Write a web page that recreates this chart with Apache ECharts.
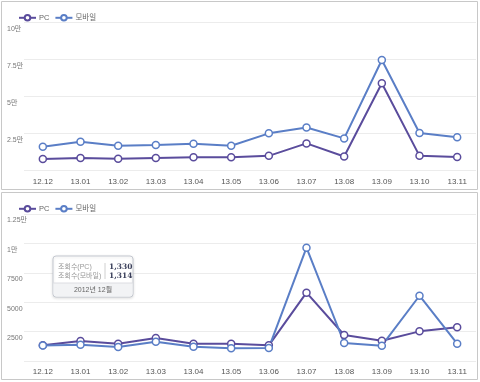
<!DOCTYPE html>
<html><head><meta charset="utf-8">
<script src="https://cdn.jsdelivr.net/npm/echarts@6/dist/echarts.min.js"></script>
<style>html,body{margin:0;padding:0;background:#fff;}#c{width:480px;height:382px;}</style>
</head><body><div id="c"></div>
<script>
const categories = ['12.12','13.01','13.02','13.03','13.04','13.05','13.06','13.07','13.08','13.09','13.10','13.11'];
const seriesNames = ['PC','모바일'];
// top chart (views)
const topPC =     [7700, 8500, 7900, 8500, 9000, 9000, 9900, 18300, 9500, 58900, 9900, 9200];
const topMobile = [16000,19400,16700,17300,18000,16700,25100,29100,21700,74700,25300,22400];
// bottom chart
const botPC =     [1330, 1700, 1470, 1960, 1470, 1470, 1330, 5810, 2210, 1730, 2520, 2860];
const botMobile = [1314, 1390, 1190, 1640, 1220, 1080, 1110, 9640, 1530, 1300, 5550, 1470];
const topTicks = {25000:'2.5만',50000:'5만',75000:'7.5만',100000:'10만'};
const botTicks = {2500:'2500',5000:'5000',7500:'7500',10000:'1만',12500:'1.25만'};
const tipRows = [['조회수(PC)','1,330'],['조회수(모바일)','1,314']];
const tipTitle = '2012년 12월';

const C_PC = '#5a4c9c', C_MO = '#5a7ec6';
const FONT = "'Liberation Sans','Noto Sans CJK KR',sans-serif";
const chart = echarts.init(document.getElementById('c'), null, {renderer:'canvas'});

function xAxis(gi){
  return {type:'category', gridIndex:gi, data:categories, boundaryGap:true,
    axisLine:{show:false}, axisTick:{show:false},
    axisLabel:{color:'#555', fontSize:8, fontFamily:FONT, margin:7}};
}
function yAxis(gi, max, interval, ticks){
  return {type:'value', gridIndex:gi, min:0, max:max, interval:interval,
    axisLine:{show:false}, axisTick:{show:false},
    splitLine:{lineStyle:{color:'#ececec', width:1}},
    axisLabel:{color:'#777', fontSize:7, fontFamily:FONT, align:'left', margin:17,
      verticalAlign:'top', padding:[3,0,0,0],
      formatter:v => ticks[v] || ''}};
}
function line(name, xi, data, color){
  return {name:name, type:'line', xAxisIndex:xi, yAxisIndex:xi, data:data,
    symbol:'circle', symbolSize:7, showSymbol:true,
    lineStyle:{color:color, width:2},
    itemStyle:{color:'#fff', borderColor:color, borderWidth:1.5},
    emphasis:{disabled:true}, animation:false};
}
function legend(top){
  return {top:top, left:13, itemWidth:17, itemHeight:7, itemGap:5,
    data:seriesNames,
    textStyle:{color:'#666', fontSize:7.5, fontFamily:FONT, padding:[0,0,0,-2]}};
}

const tipX = 53, tipY = 256, tipW = 80, tipH = 41;
const graphic = [
  {type:'rect', shape:{x:1.5, y:1.5, width:476, height:188}, style:{fill:'none', stroke:'#c8c8c8', lineWidth:1}, z:-1},
  {type:'rect', shape:{x:1.5, y:192.5, width:476, height:187}, style:{fill:'none', stroke:'#c8c8c8', lineWidth:1}, z:-1},
  {type:'rect', shape:{x:tipX, y:tipY, width:tipW, height:tipH, r:3},
    style:{fill:'#fff', stroke:'#c4c8d0', lineWidth:1, shadowBlur:3, shadowColor:'rgba(0,0,0,0.12)', shadowOffsetY:1}, z:100},
  {type:'rect', shape:{x:tipX+0.5, y:tipY+27, width:tipW-1, height:13.5, r:[0,0,3,3]},
    style:{fill:'#f2f3f5'}, z:101},
  {type:'line', shape:{x1:tipX, y1:tipY+27, x2:tipX+tipW, y2:tipY+27}, style:{stroke:'#dcdde2', lineWidth:1}, z:102},
  {type:'line', shape:{x1:tipX+52, y1:tipY+7, x2:tipX+52, y2:tipY+23}, style:{stroke:'#d0d0d0', lineWidth:1}, z:102},
];
tipRows.forEach((r,i)=>{
  graphic.push({type:'text', x:tipX+5, y:tipY+11+i*9, z:103,
    style:{text:r[0], fill:'#999', fontSize:7, fontFamily:FONT, verticalAlign:'middle'}});
  graphic.push({type:'text', x:tipX+56, y:tipY+11+i*9, z:103,
    style:{text:r[1], fill:'#3a3f5a', fontSize:7.5, fontWeight:'bold', fontFamily:"'DejaVu Serif','Liberation Serif',serif", verticalAlign:'middle'}});
});
graphic.push({type:'text', x:tipX+tipW/2, y:tipY+34, z:103,
  style:{text:tipTitle, fill:'#666', fontSize:7, fontFamily:FONT, align:'center', verticalAlign:'middle'}});

chart.setOption({
  backgroundColor:'#fff',
  animation:false,
  color:[C_PC, C_MO],
  legend:[legend(9), legend(200)],
  grid:[
    {left:24, right:4, top:22.5, height:148, containLabel:false},
    {left:24, right:4, top:214, height:147, containLabel:false}
  ],
  xAxis:[xAxis(0), xAxis(1)],
  yAxis:[yAxis(0, 100000, 25000, topTicks), yAxis(1, 12500, 2500, botTicks)],
  series:[
    line(seriesNames[0], 0, topPC, C_PC),
    line(seriesNames[1], 0, topMobile, C_MO),
    line(seriesNames[0], 1, botPC, C_PC),
    line(seriesNames[1], 1, botMobile, C_MO)
  ],
  graphic:graphic
});
</script></body></html>
